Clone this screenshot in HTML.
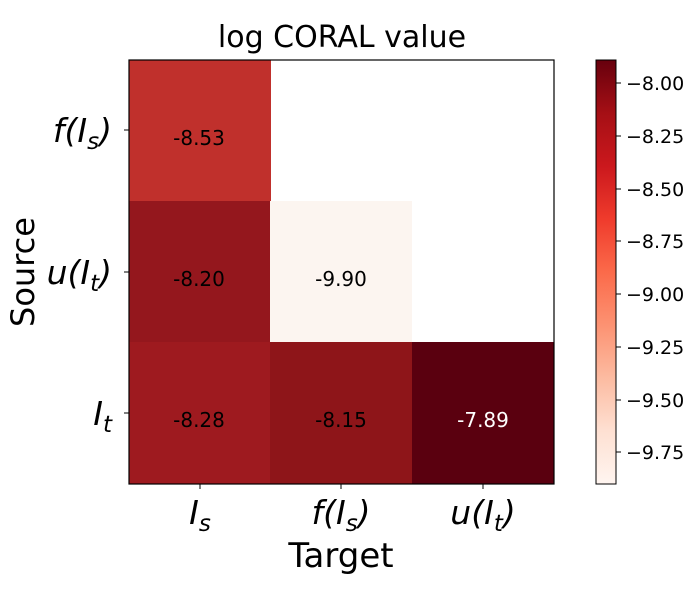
<!DOCTYPE html>
<html><head><meta charset="utf-8"><style>
body{margin:0;background:#fff;}
svg text{font-family:"DejaVu Sans","Liberation Sans",sans-serif;}
</style></head><body>
<svg width="700" height="600" xmlns="http://www.w3.org/2000/svg">
<defs>
<linearGradient id="reds" x1="0" y1="1" x2="0" y2="0">
<stop offset="0" stop-color="#fff5f0"/>
<stop offset="0.125" stop-color="#fee0d2"/>
<stop offset="0.25" stop-color="#fcbba1"/>
<stop offset="0.375" stop-color="#fc9272"/>
<stop offset="0.5" stop-color="#fb6a4a"/>
<stop offset="0.625" stop-color="#ef3b2c"/>
<stop offset="0.75" stop-color="#cb181d"/>
<stop offset="0.875" stop-color="#a50f15"/>
<stop offset="1" stop-color="#67000d"/>
</linearGradient>
</defs>
<text x="342" y="47" font-size="30" text-anchor="middle">log CORAL value</text>
<rect x="129" y="60" width="142" height="142" fill="#c0302c"/>
<rect x="129" y="201" width="142" height="142" fill="#94171d"/>
<rect x="270" y="201" width="142" height="142" fill="#fcf5f0"/>
<rect x="129" y="342" width="142" height="142" fill="#9e1a1f"/>
<rect x="270" y="342" width="142" height="142" fill="#8e1519"/>
<rect x="412" y="342" width="142" height="142" fill="#5a000f"/>
<rect x="129" y="60" width="425" height="424" fill="none" stroke="#000" stroke-width="1.2"/>
<g font-size="20" text-anchor="middle">
<text x="199" y="145">-8.53</text>
<text x="199" y="286">-8.20</text>
<text x="341" y="286">-9.90</text>
<text x="199" y="427">-8.28</text>
<text x="341" y="427">-8.15</text>
<text x="483" y="427" fill="#fff">-7.89</text>
</g>
<g stroke="#000" stroke-width="1">
<line x1="129" y1="130" x2="124" y2="130"/>
<line x1="129" y1="272" x2="124" y2="272"/>
<line x1="129" y1="413" x2="124" y2="413"/>
<line x1="200" y1="484" x2="200" y2="489"/>
<line x1="341" y1="484" x2="341" y2="489"/>
<line x1="483" y1="484" x2="483" y2="489"/>
</g>
<g font-size="33" font-style="italic" text-anchor="end">
<text x="112" y="142">f(I<tspan font-size="23" dy="7">s</tspan><tspan dy="-7">)</tspan></text>
<text x="112" y="284">u(I<tspan font-size="23" dy="7">t</tspan><tspan dy="-7">)</tspan></text>
<text x="112" y="425">I<tspan font-size="23" dy="7">t</tspan></text>
</g>
<g font-size="33" font-style="italic" text-anchor="middle">
<text x="200" y="524">I<tspan font-size="23" dy="7">s</tspan></text>
<text x="341" y="524">f(I<tspan font-size="23" dy="7">s</tspan><tspan dy="-7">)</tspan></text>
<text x="483" y="524">u(I<tspan font-size="23" dy="7">t</tspan><tspan dy="-7">)</tspan></text>
</g>
<text x="341" y="567" font-size="34" text-anchor="middle">Target</text>
<text transform="translate(34,272) rotate(-90)" font-size="32" text-anchor="middle">Source</text>
<rect x="596" y="60" width="20" height="424" fill="url(#reds)" stroke="#000" stroke-width="1"/>
<g stroke="#000" stroke-width="1">
<line x1="616" y1="83" x2="621" y2="83"/>
<line x1="616" y1="136" x2="621" y2="136"/>
<line x1="616" y1="189" x2="621" y2="189"/>
<line x1="616" y1="241" x2="621" y2="241"/>
<line x1="616" y1="294" x2="621" y2="294"/>
<line x1="616" y1="347" x2="621" y2="347"/>
<line x1="616" y1="400" x2="621" y2="400"/>
<line x1="616" y1="452" x2="621" y2="452"/>
</g>
<g font-size="19">
<text x="626" y="90">−8.00</text>
<text x="626" y="143">−8.25</text>
<text x="626" y="196">−8.50</text>
<text x="626" y="248">−8.75</text>
<text x="626" y="301">−9.00</text>
<text x="626" y="354">−9.25</text>
<text x="626" y="407">−9.50</text>
<text x="626" y="459">−9.75</text>
</g>
</svg>
</body></html>
